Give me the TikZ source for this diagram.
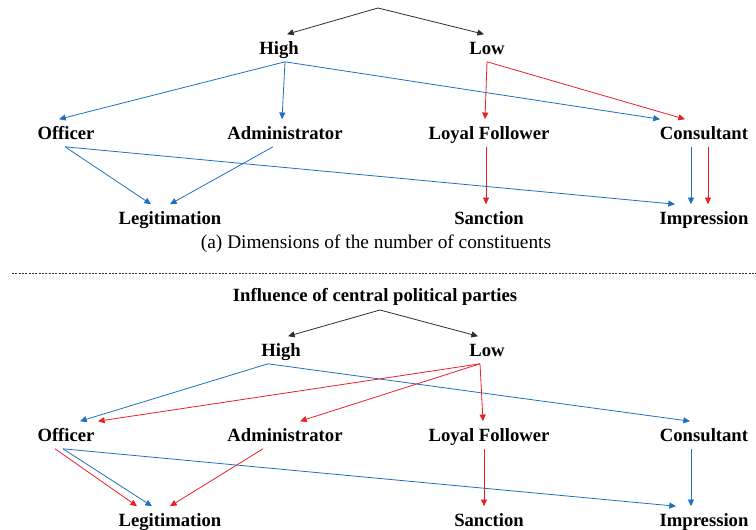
\documentclass[tikz,border=0pt]{standalone}
\usepackage{fontspec}
\setmainfont{Liberation Serif}
\usetikzlibrary{arrows.meta,calc}
\definecolor{blueline}{RGB}{30,112,190}
\definecolor{redline}{RGB}{232,32,40}
\definecolor{darkline}{RGB}{45,45,45}
\tikzset{
  lbl/.style={font=\fontsize{14}{16}\selectfont\bfseries, inner xsep=2pt, inner ysep=5.5pt, text height=9.3pt, text depth=0pt},
  tip/.style={-{Triangle[length=5pt,width=4.5pt]}},
  blu/.style={tip, draw=blueline, line width=0.6pt},
  rd/.style={tip, draw=redline, line width=0.6pt},
  blk/.style={tip, draw=darkline, line width=0.6pt}
}
\begin{document}
\begin{tikzpicture}[x=0.75pt,y=0.75pt,yscale=-1,xscale=1]
	\useasboundingbox (0,0) rectangle (756,529);
	
	% (a) number of constituents
	\coordinate (top1) at (378,8);
	% Text Node
	\node [lbl] (high) at (279,48) {High};
	\node [lbl] (low) at (487,48) {Low};
	\node [lbl] (officer) at (66,133) {Officer};
	\node [lbl] (admin) at (285,133) {Administrator};
	\node [lbl] (loyal) at (489,133) {Loyal Follower};
	\node [lbl] (consult) at (704,133) {Consultant};
	\node [lbl] (legit) at (170,218) {Legitimation};
	\node [lbl] (sanct) at (489,218) {Sanction};
	\node [lbl] (impr) at (704,218) {Impression};
	\node [font=\fontsize{14.5}{16}\selectfont, inner sep=0.75pt] (capa) at (376,244) {(a) Dimensions of the number of constituents};
	
	%Straight Lines
	\draw [blk] (top1) -- ($(high.north)+(8,0)$);
	\draw [blk] (top1) -- ($(low.north)+(-3,0)$);
	\draw [blu] ($(high.south)+(6,0)$) -- ($(officer.north)+(-7,0)$);
	\draw [blu] ($(high.south)+(6,0)$) -- ($(admin.north)+(-3,0)$);
	\draw [blu] ($(high.south)+(6,0)$) -- ($(consult.north)+(-44,0)$);
	\draw [rd] (low.south) -- ($(loyal.north)+(-4,0)$);
	\draw [rd] (low.south) -- ($(consult.north)+(-19,0)$);
	\draw [blu] ($(officer.south)+(-1,0)$) -- ($(legit.north)+(-19,0)$);
	\draw [blu] ($(officer.south)+(-1,0)$) -- ($(impr.north)+(-29,0)$);
	\draw [blu] ($(admin.south)+(-12,0)$) -- (legit.north);
	\draw [rd] ($(loyal.south)+(-3,0)$) -- ($(sanct.north)+(-3,0)$);
	\draw [blu] ($(consult.south)+(-13,0)$) -- ($(impr.north)+(-13,0)$);
	\draw [rd] ($(consult.south)+(4,0)$) -- ($(impr.north)+(4,0)$);
	
	%Dashed separator
	\draw [darkline, line width=0.6pt, dash pattern=on 1.5pt off 1pt] (12,273) -- (756,273);
	
	% influence of central political parties
	\node [lbl] (title) at (375,295) {Influence of central political parties};
	\coordinate (top2) at (380,310);
	% Text Node
	\node [lbl] (high2) at (281,350) {High};
	\node [lbl] (low2) at (487,350) {Low};
	\node [lbl] (officer2) at (66,435) {Officer};
	\node [lbl] (admin2) at (285,435) {Administrator};
	\node [lbl] (loyal2) at (489,435) {Loyal Follower};
	\node [lbl] (consult2) at (704,435) {Consultant};
	\node [lbl] (legit2) at (170,520) {Legitimation};
	\node [lbl] (sanct2) at (489,520) {Sanction};
	\node [lbl] (impr2) at (704,520) {Impression};
	
	%Straight Lines
	\draw [blk] (top2) -- ($(high2.north)+(7,0)$);
	\draw [blk] (top2) -- ($(low2.north)+(-9,0)$);
	\draw [blu] ($(high2.south)+(-13,0)$) -- ($(officer2.north)+(14,0)$);
	\draw [blu] ($(high2.south)+(-13,0)$) -- ($(consult2.north)+(-14,0)$);
	\draw [rd] ($(low2.south)+(-7,0)$) -- ($(officer2.north)+(32,0)$);
	\draw [rd] ($(low2.south)+(-7,0)$) -- ($(admin2.north)+(15,0)$);
	\draw [rd] ($(low2.south)+(-7,0)$) -- ($(loyal2.north)+(-6,0)$);
	\draw [rd] ($(officer2.south)+(-11,0)$) -- ($(legit2.north)+(-33,0)$);
	\draw [blu] ($(officer2.south)+(-3,0)$) -- ($(legit2.north)+(-18,0)$);
	\draw [blu] ($(officer2.south)+(-3,0)$) -- ($(impr2.north)+(-28,0)$);
	\draw [rd] ($(admin2.south)+(-22,0)$) -- (legit2.north);
	\draw [rd] ($(loyal2.south)+(-5,0)$) -- ($(sanct2.north)+(-5,0)$);
	\draw [blu] ($(consult2.south)+(-13,0)$) -- ($(impr2.north)+(-13,0)$);
	
\end{tikzpicture}
\end{document}
